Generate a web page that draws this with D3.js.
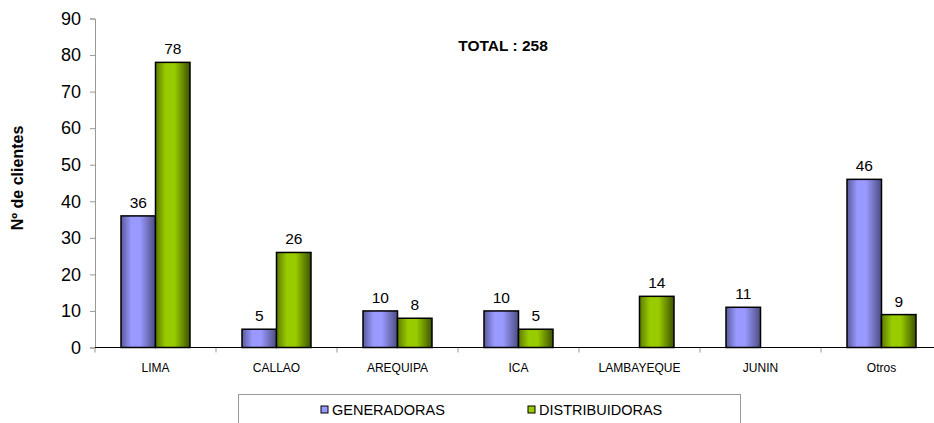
<!DOCTYPE html>
<html>
<head>
<meta charset="utf-8">
<script src="https://cdn.jsdelivr.net/npm/d3@7"></script>
<style>
  body { margin: 0; background: #fff; }
  text { font-family: Arial, "Liberation Sans", sans-serif; fill: #000; }
</style>
</head>
<body>
<div id="chart"></div>
<script>
var regiones = ['LIMA', 'CALLAO', 'AREQUIPA', 'ICA', 'LAMBAYEQUE', 'JUNIN', 'Otros']
var generadoras = [36, 5, 10, 10, null, 11, 46]
var distribuidoras = [78, 26, 8, 5, 14, null, 9]
var series = ['GENERADORAS', 'DISTRIBUIDORAS']
var yTicks = [0, 10, 20, 30, 40, 50, 60, 70, 80, 90]

var width = 934
var height = 423
var colores = {
  GENERADORAS: ['#5a5a9c', '#9999ff', '#9999ff', '#4c4c80'],
  DISTRIBUIDORAS: ['#5c7a00', '#99cc00', '#99cc00', '#3d5200']
}

var svg = d3.select('#chart').append('svg')
  .attr('width', width)
  .attr('height', height)

var defs = svg.append('defs')
series.forEach(function (s, si) {
  var g = defs.append('linearGradient')
    .attr('id', 'grad' + si)
    .attr('x1', '0%').attr('x2', '100%')
    .attr('y1', '0%').attr('y2', '0%')
  var c = colores[s]
  g.append('stop').attr('offset', '0%').attr('stop-color', c[0])
  g.append('stop').attr('offset', '30%').attr('stop-color', c[1])
  g.append('stop').attr('offset', '55%').attr('stop-color', c[2])
  g.append('stop').attr('offset', '100%').attr('stop-color', c[3])
})

var x = d3.scaleBand()
  .domain(regiones)
  .range([95, 942])
  .paddingInner(0)
  .paddingOuter(0)

var y = d3.scaleLinear()
  .domain([0, 90])
  .range([347.5, 18.5])

var barW = 34.5

// y axis
var yAxis = svg.append('g')
  .attr('transform', 'translate(95,0)')
  .call(d3.axisLeft(y).tickValues(yTicks).tickSize(5).tickPadding(9))
yAxis.select('.domain').attr('stroke', '#999')
yAxis.selectAll('.tick line').attr('stroke', '#999')
yAxis.selectAll('.tick text')
  .style('font-size', '18px')
  .attr('font-family', null)

// ticks between categories on the x axis
var xb = svg.append('g')
xb.selectAll('line')
  .data(regiones)
  .enter().append('line')
  .attr('x1', d => x(d)).attr('x2', d => x(d))
  .attr('y1', y(0)).attr('y2', y(0) + 5)
  .attr('stroke', '#999')

xb.selectAll('text')
  .data(regiones)
  .enter().append('text')
  .attr('x', d => x(d) + x.bandwidth() / 2)
  .attr('y', y(0) + 24)
  .attr('text-anchor', 'middle')
  .style('font-size', '12px')
  .text(d => d)

// bars
var datos = [generadoras, distribuidoras]
series.forEach(function (s, si) {
  var rows = regiones.map(function (r, i) { return { r: r, v: datos[si][i] } })
    .filter(d => d.v != null)
  var g = svg.append('g')
  g.selectAll('rect')
    .data(rows)
    .enter().append('rect')
    .attr('x', d => x(d.r) + x.bandwidth() / 2 - barW + si * barW)
    .attr('y', d => y(d.v))
    .attr('width', barW)
    .attr('height', d => y(0) - y(d.v))
    .attr('fill', 'url(#grad' + si + ')')
    .attr('stroke', '#000')
    .attr('stroke-width', 1.5)
  g.selectAll('text')
    .data(rows)
    .enter().append('text')
    .attr('x', d => x(d.r) + x.bandwidth() / 2 - barW / 2 + si * barW)
    .attr('y', d => y(d.v) - 8)
    .attr('text-anchor', 'middle')
    .style('font-size', '15.5px')
    .text(d => d.v)
})

// x axis line
svg.append('line')
  .attr('x1', 95).attr('x2', width)
  .attr('y1', y(0)).attr('y2', y(0))
  .attr('stroke', '#000')
  .attr('stroke-width', 1.2)

// y title
svg.append('text')
  .attr('transform', 'translate(23,178) rotate(-90)')
  .attr('text-anchor', 'middle')
  .style('font-size', '16px')
  .style('font-weight', 'bold')
  .text('Nº de clientes')

// total
svg.append('text')
  .attr('x', 503)
  .attr('y', 51)
  .attr('text-anchor', 'middle')
  .style('font-size', '15.5px')
  .style('font-weight', 'bold')
  .text('TOTAL : 258')

// legend
var leg = svg.append('g')
leg.append('rect')
  .attr('x', 238.5).attr('y', 394.5)
  .attr('width', 502).attr('height', 40)
  .attr('fill', 'none')
  .attr('stroke', '#999')
var legX = [321, 528]
series.forEach(function (s, si) {
  leg.append('rect')
    .attr('x', legX[si]).attr('y', 406)
    .attr('width', 7).attr('height', 7)
    .attr('fill', colores[s][1])
    .attr('stroke', '#000')
    .attr('stroke-width', 1)
  leg.append('text')
    .attr('x', legX[si] + 11)
    .attr('y', 415)
    .style('font-size', '14.5px')
    .text(s)
})
</script>
</body>
</html>
